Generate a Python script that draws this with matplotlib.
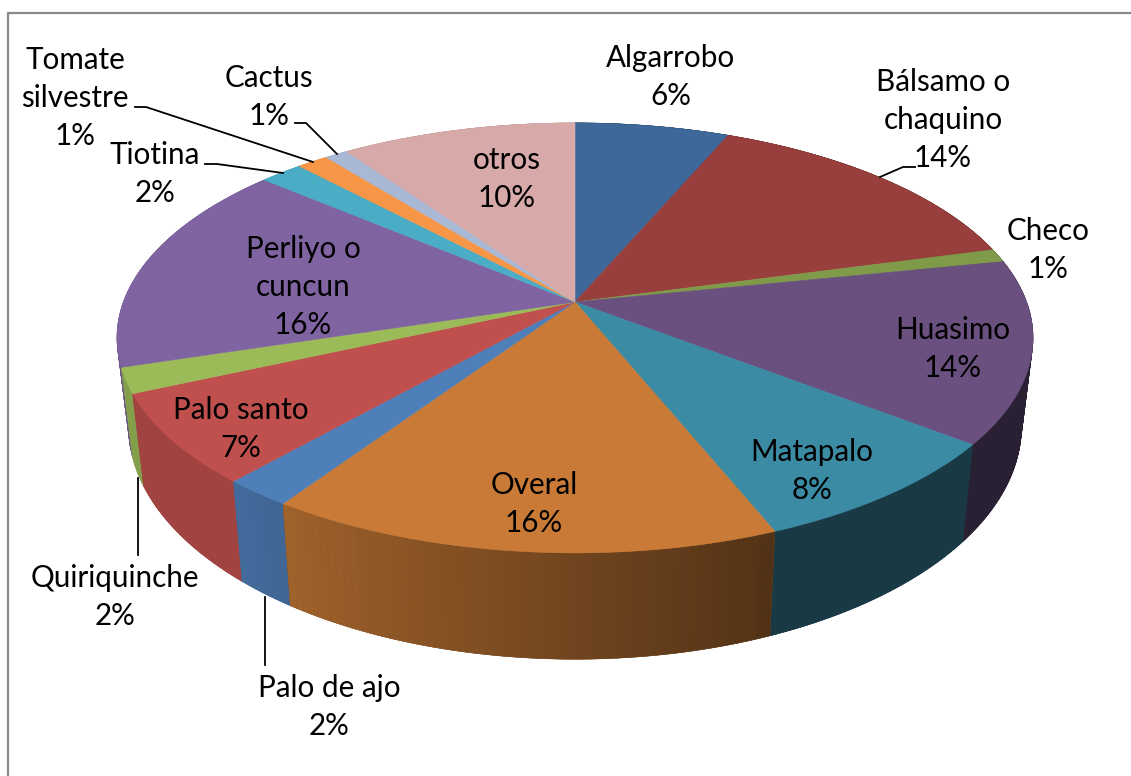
import numpy as np
import matplotlib
matplotlib.use('Agg')
import matplotlib.pyplot as plt
from matplotlib.collections import PolyCollection

# datos (porcentaje, empezando arriba y en sentido horario)
names = ['Algarrobo', 'Bálsamo o\nchaquino', 'Checo', 'Huasimo', 'Matapalo', 'Overal',
         'Palo de ajo', 'Palo santo', 'Quiriquinche', 'Perliyo o\ncuncun', 'Tiotina',
         'Tomate\nsilvestre', 'Cactus', 'otros']
values = [6.4, 14.4, 1.0, 13.7, 8.4, 15.5, 2.1, 6.8, 1.9, 16.0, 1.8, 1.3, 0.95, 9.75]
shown = [6, 14, 1, 14, 8, 16, 2, 7, 2, 16, 2, 1, 1, 10]

colors = ['#3d6899', '#983f3d', '#7f9a48', '#69507f', '#3b8ba5', '#c87a36', '#4f7fb9',
          '#bf504d', '#9bbb59', '#8064a2', '#4bacc6', '#f79646', '#a8b8d5', '#d7a9a9']
# oscurecimiento de la pared lateral (inicio, fin de cada porcion)
shade = [(.4, .4), (.4, .4), (.4, .4), (.4, .4), (.42, .42), (.41, .8), (.8, .84),
         (.84, .84), (.85, .85), (.85, .85), (.85, .85), (.85, .85), (.85, .85), (.85, .85)]

label_xy = [(671, 77), (943, 120), (1048, 250), (953, 349), (812, 471), (534, 504),
            (329, 707), (241, 429), (115, 597), (303, 287), (155, 174), (75, 98),
            (269, 97), (507, 179)]
leaders = [[(915, 167), (903, 167), (880, 177)],
           [(138, 478), (138, 555)],
           [(265, 597), (265, 665)],
           [(205, 164), (217, 164), (283, 173)],
           [(135, 107), (146, 107), (313, 162)],
           [(295, 123), (306, 123), (337, 154)]]

# perspectiva de la tarta
cx, cy = 575, 302
R, S, a = 451.6, 209, 0.167
sx, sy, drop = 0.975, 1.085, 85


def top(th):
    u, v = np.sin(th), np.cos(th)
    w = 1 + a * v
    return cx + R * u / w, cy - S * v / w


def bottom(th):
    x, y = top(th)
    return cx + sx * (x - cx), cy + sy * (y - cy) + drop


plt.rcParams['font.family'] = ['Lato', 'DejaVu Sans']
fig = plt.figure(figsize=(11.31, 7.76), dpi=100)
ax = fig.add_axes([0, 0, 1, 1])
ax.set_xlim(0, 1131)
ax.set_ylim(776, 0)
ax.axis('off')

# marco gris del grafico
ax.plot([7.5, 7.5, 1131], [776, 12.5, 12.5], color='#8a8a8a', lw=1.6, solid_capstyle='butt')

edges = np.cumsum([0] + values) / sum(values) * 2 * np.pi

# paredes laterales: primero un fondo liso por porcion y encima el degradado
slices = sorted(range(len(values)), key=lambda i: -np.cos((edges[i] + edges[i + 1]) / 2))
for i in slices:
    n = max(int((edges[i + 1] - edges[i]) * 60), 2)
    th = np.linspace(edges[i], edges[i + 1], n + 1)
    x1, y1 = top(th)
    x2, y2 = bottom(th)
    f = np.linspace(shade[i][0], shade[i][1], n)
    base = np.array(matplotlib.colors.to_rgb(colors[i]))
    ax.fill(np.r_[x1, x2[::-1]], np.r_[y1, y2[::-1]], color=base * f.mean(), lw=0.3, zorder=2)
    quads = [[(x1[k], y1[k]), (x1[k + 1], y1[k + 1]), (x2[k + 1], y2[k + 1]), (x2[k], y2[k])]
             for k in range(n)]
    qcol = [base * f[k] for k in range(n)]
    ax.add_collection(PolyCollection(quads, facecolors=qcol, edgecolors=qcol,
                                     linewidths=0.3, zorder=2))

# cara superior
for i in range(len(values)):
    th = np.linspace(edges[i], edges[i + 1], 120)
    x, y = top(th)
    ax.fill(np.r_[cx, x], np.r_[cy, y], color=colors[i], lw=0.4, zorder=3)

for pts in leaders:
    ax.plot([p[0] for p in pts], [p[1] for p in pts], color='black', lw=1.3, zorder=4)

for name, pct, (x, y) in zip(names, shown, label_xy):
    ax.text(x, y, f'{name}\n{pct}%', ha='center', va='center', fontsize=21.3,
            linespacing=1.44, color='black', zorder=5)

fig.savefig('out.png', dpi=100, facecolor='white')
